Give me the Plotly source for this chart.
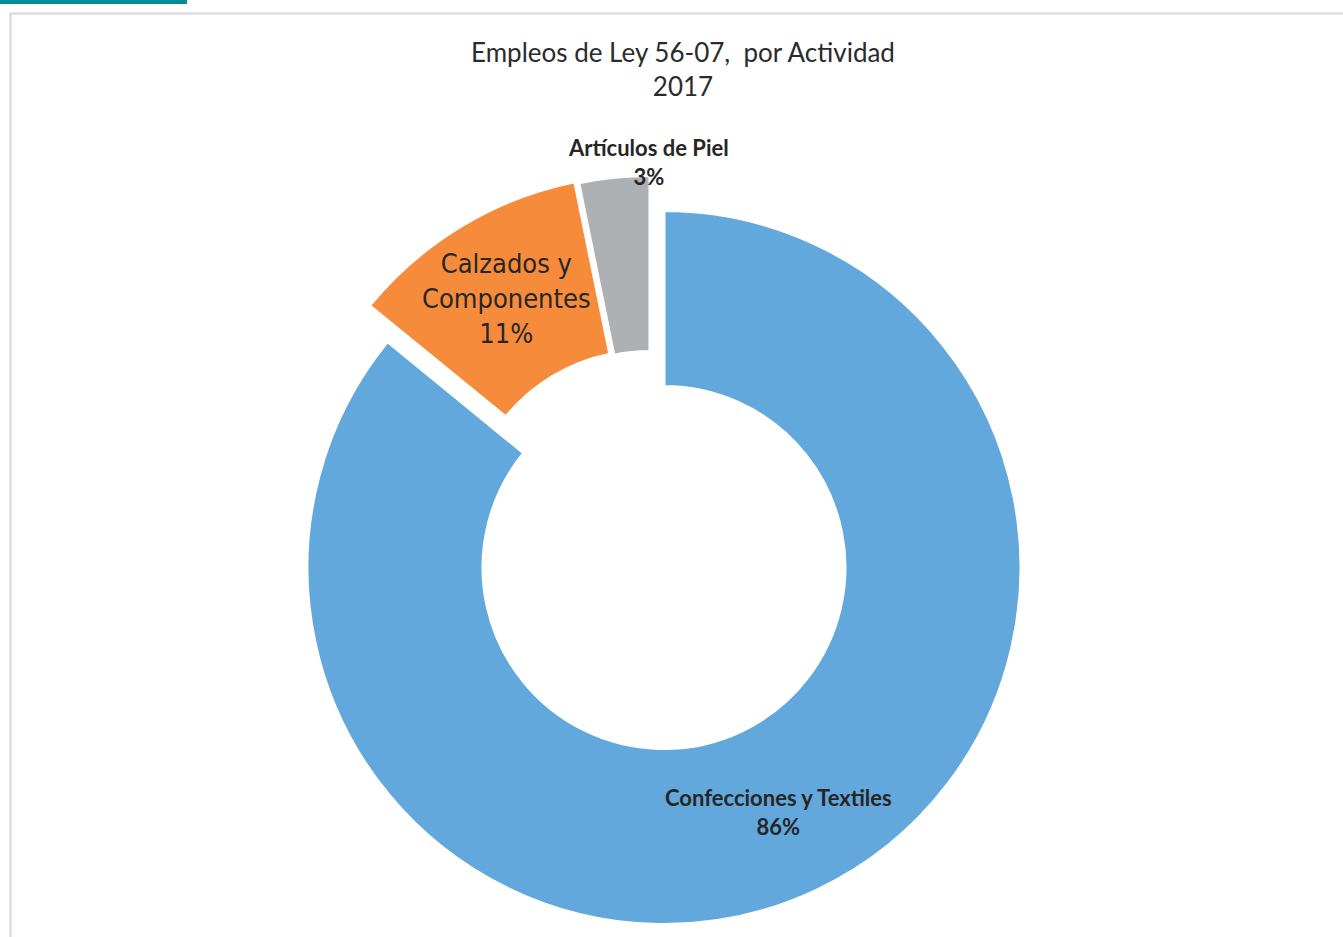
import plotly.graph_objects as go

# data
labels = ["Confecciones y Textiles", "Calzados y Componentes", "Artículos de Piel"]
values = [85.9, 10.9, 3.2]
colors = ["#63A8DC", "#F68B3B", "#AEB1B4"]

W, H = 1343, 937
CX, CY, R = 664, 567.5, 357        # pie centre / outer radius in px
HOLE = 0.507
# explosion offset (px) of each slice, like Excel "point explosion"
offsets = [(0, 0), (-18, -36), (-14, -35)]

pcts = [round(v / sum(values) * 100) for v in values]


def domain(dx, dy):
    x0 = (CX - R + dx) / W
    x1 = (CX + R + dx) / W
    y0 = (H - (CY + R + dy)) / H
    y1 = (H - (CY - R + dy)) / H
    return dict(x=[x0, x1], y=[y0, y1])


fig = go.Figure()

# one pie per slice so each exploded slice keeps full radius
for k in range(len(values)):
    fig.add_trace(go.Pie(
        labels=labels,
        values=values,
        sort=False,
        direction="clockwise",
        rotation=0,
        hole=HOLE,
        domain=domain(*offsets[k]),
        marker=dict(
            colors=[c if i == k else "rgba(0,0,0,0)" for i, c in enumerate(colors)],
            line=dict(color="white",
                      width=[3 if i == k else 0 for i in range(len(values))]),
        ),
        textinfo="none",
        hoverinfo="label+percent" if k == 0 else "skip",
        showlegend=False,
    ))


def px(x, y):
    return x / W, 1 - y / H


ann = []
x, y = px(778, 812)
ann.append(dict(x=x, y=y, text=f"<b>{labels[0]}<br>{pcts[0]}%</b>",
                font=dict(family="Lato", size=22, color="#262626")))
x, y = px(506, 298)
ann.append(dict(x=x, y=y, text=f"Calzados y<br>Componentes<br>{pcts[1]}%",
                font=dict(family="DejaVu Sans Condensed", size=27, color="#262626")))
x, y = px(648, 162)
ann.append(dict(x=x, y=y, text=f"<b>{labels[2]}<br>{pcts[2]}%</b>",
                font=dict(family="Lato", size=22, color="#262626")))
for a in ann:
    a.update(xref="paper", yref="paper", showarrow=False,
             xanchor="center", yanchor="middle")

fig.update_layout(
    width=W, height=H,
    margin=dict(l=0, r=0, t=0, b=0),
    paper_bgcolor="white",
    title=dict(text="Empleos de Ley 56-07,\u00a0 por Actividad<br>2017",
               x=683 / W, xanchor="center", y=1 - 62 / H, yanchor="middle",
               font=dict(family="Lato", size=26, color="#2b2b2b")),
    annotations=ann,
    shapes=[
        dict(type="rect", xref="paper", yref="paper",
             x0=0, x1=187 / W, y0=1 - 4 / H, y1=1.01,
             fillcolor="#008B95", line=dict(width=0)),
        dict(type="rect", xref="paper", yref="paper",
             x0=10.5 / W, x1=1.02, y0=-0.02, y1=1 - 13.5 / H,
             line=dict(color="#DCDFDF", width=2.5), layer="below"),
    ],
)

fig.write_html("out.html", config={"displayModeBar": False},
               post_script="document.body.style.margin='0';")
